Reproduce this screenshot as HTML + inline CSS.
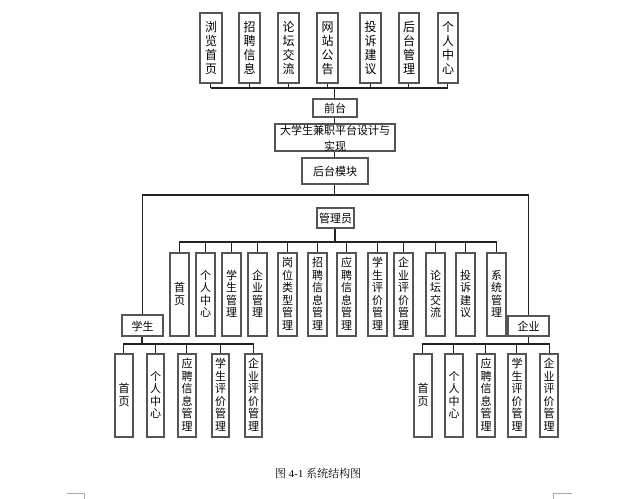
<!DOCTYPE html>
<html><head><meta charset="utf-8"><style>
body{margin:0;width:621px;height:499px;background:#fff;position:relative;overflow:hidden;font-family:"Liberation Sans","Noto Sans CJK SC",sans-serif;}
.b{position:absolute;box-sizing:border-box;border:2px solid #555;background:#fff;display:flex;align-items:center;justify-content:center;font-size:11px;color:#000;text-align:center;}
.v{flex-direction:column;line-height:12.5px;}
.t{line-height:14px;font-size:12px;}
.l{position:absolute;background:#222;}
</style></head><body>
<!-- top connectors -->
<div class="l" style="left:211px;top:87px;width:237px;height:1.5px"></div>
<div class="l" style="left:210px;top:83px;width:1px;height:5px"></div>
<div class="l" style="left:249px;top:83px;width:1px;height:5px"></div>
<div class="l" style="left:288px;top:83px;width:1px;height:5px"></div>
<div class="l" style="left:327px;top:83px;width:1px;height:5px"></div>
<div class="l" style="left:370px;top:83px;width:1px;height:5px"></div>
<div class="l" style="left:408px;top:83px;width:1px;height:5px"></div>
<div class="l" style="left:447px;top:83px;width:1px;height:5px"></div>
<div class="l" style="left:334px;top:87px;width:1px;height:108px"></div>
<div class="l" style="left:142px;top:194px;width:387px;height:1.5px"></div>
<div class="l" style="left:142px;top:194px;width:1px;height:121px"></div>
<div class="l" style="left:528px;top:194px;width:1px;height:121px"></div>
<div class="l" style="left:334px;top:227px;width:2px;height:15px"></div>
<div class="l" style="left:179px;top:241px;width:318px;height:1.5px"></div>
<div class="l" style="left:179px;top:241px;width:1px;height:11px"></div>
<div class="l" style="left:205px;top:241px;width:1px;height:11px"></div>
<div class="l" style="left:231px;top:241px;width:1px;height:11px"></div>
<div class="l" style="left:257px;top:241px;width:1px;height:11px"></div>
<div class="l" style="left:287px;top:241px;width:1px;height:11px"></div>
<div class="l" style="left:317px;top:241px;width:1px;height:11px"></div>
<div class="l" style="left:346px;top:241px;width:1px;height:11px"></div>
<div class="l" style="left:377px;top:241px;width:1px;height:11px"></div>
<div class="l" style="left:403px;top:241px;width:1px;height:11px"></div>
<div class="l" style="left:435px;top:241px;width:1px;height:11px"></div>
<div class="l" style="left:465px;top:241px;width:1px;height:11px"></div>
<div class="l" style="left:496px;top:241px;width:1px;height:11px"></div>
<!-- student connectors -->
<div class="l" style="left:141px;top:336px;width:2px;height:8px"></div>
<div class="l" style="left:123px;top:343px;width:130px;height:1.5px"></div>
<div class="l" style="left:123px;top:343px;width:1px;height:10px"></div>
<div class="l" style="left:155px;top:343px;width:1px;height:10px"></div>
<div class="l" style="left:186px;top:343px;width:1px;height:10px"></div>
<div class="l" style="left:220px;top:343px;width:1px;height:10px"></div>
<div class="l" style="left:253px;top:343px;width:1px;height:10px"></div>
<!-- enterprise connectors -->
<div class="l" style="left:528px;top:336px;width:1px;height:8px"></div>
<div class="l" style="left:422px;top:343px;width:128px;height:1.5px"></div>
<div class="l" style="left:422px;top:343px;width:1px;height:10px"></div>
<div class="l" style="left:453px;top:343px;width:1px;height:10px"></div>
<div class="l" style="left:485px;top:343px;width:1px;height:10px"></div>
<div class="l" style="left:516px;top:343px;width:1px;height:10px"></div>
<div class="l" style="left:549px;top:343px;width:1px;height:10px"></div>

<!-- top boxes -->
<div class="b v t" style="left:199px;top:12px;width:24px;height:72px">浏<br>览<br>首<br>页</div>
<div class="b v t" style="left:238px;top:12px;width:23px;height:72px">招<br>聘<br>信<br>息</div>
<div class="b v t" style="left:277px;top:12px;width:23px;height:72px">论<br>坛<br>交<br>流</div>
<div class="b v t" style="left:316px;top:12px;width:23px;height:72px">网<br>站<br>公<br>告</div>
<div class="b v t" style="left:359px;top:12px;width:23px;height:72px">投<br>诉<br>建<br>议</div>
<div class="b v t" style="left:398px;top:12px;width:22px;height:72px">后<br>台<br>管<br>理</div>
<div class="b v t" style="left:437px;top:12px;width:22px;height:72px">个<br>人<br>中<br>心</div>

<div class="b" style="left:312px;top:98px;width:46px;height:20px">前台</div>
<div class="b" style="left:274px;top:123px;width:122px;height:29px">大学生兼职平台设计与实现</div>
<div class="b" style="left:301px;top:157px;width:68px;height:28px">后台模块</div>
<div class="b" style="left:316px;top:207px;width:39px;height:22px">管理员</div>

<!-- admin boxes -->
<div class="b v" style="left:169px;top:252px;width:21px;height:85px">首<br>页</div>
<div class="b v" style="left:195px;top:252px;width:21px;height:85px">个<br>人<br>中<br>心</div>
<div class="b v" style="left:221px;top:252px;width:21px;height:85px">学<br>生<br>管<br>理</div>
<div class="b v" style="left:247px;top:252px;width:21px;height:85px">企<br>业<br>管<br>理</div>
<div class="b v" style="left:277px;top:252px;width:21px;height:85px">岗<br>位<br>类<br>型<br>管<br>理</div>
<div class="b v" style="left:307px;top:252px;width:21px;height:85px">招<br>聘<br>信<br>息<br>管<br>理</div>
<div class="b v" style="left:336px;top:252px;width:21px;height:85px">应<br>聘<br>信<br>息<br>管<br>理</div>
<div class="b v" style="left:367px;top:252px;width:21px;height:85px">学<br>生<br>评<br>价<br>管<br>理</div>
<div class="b v" style="left:393px;top:252px;width:21px;height:85px">企<br>业<br>评<br>价<br>管<br>理</div>
<div class="b v" style="left:425px;top:252px;width:21px;height:85px">论<br>坛<br>交<br>流</div>
<div class="b v" style="left:455px;top:252px;width:21px;height:85px">投<br>诉<br>建<br>议</div>
<div class="b v" style="left:486px;top:252px;width:21px;height:85px">系<br>统<br>管<br>理</div>

<div class="b" style="left:121px;top:314px;width:43px;height:23px">学生</div>
<div class="b" style="left:507px;top:315px;width:43px;height:22px">企业</div>

<!-- student boxes -->
<div class="b v" style="left:114px;top:353px;width:20px;height:85px">首<br>页</div>
<div class="b v" style="left:146px;top:353px;width:19px;height:85px">个<br>人<br>中<br>心</div>
<div class="b v" style="left:177px;top:353px;width:20px;height:85px">应<br>聘<br>信<br>息<br>管<br>理</div>
<div class="b v" style="left:211px;top:353px;width:19px;height:85px">学<br>生<br>评<br>价<br>管<br>理</div>
<div class="b v" style="left:244px;top:353px;width:19px;height:85px">企<br>业<br>评<br>价<br>管<br>理</div>
<!-- enterprise boxes -->
<div class="b v" style="left:413px;top:353px;width:20px;height:85px">首<br>页</div>
<div class="b v" style="left:444px;top:353px;width:20px;height:85px">个<br>人<br>中<br>心</div>
<div class="b v" style="left:476px;top:353px;width:20px;height:85px">应<br>聘<br>信<br>息<br>管<br>理</div>
<div class="b v" style="left:507px;top:353px;width:20px;height:85px">学<br>生<br>评<br>价<br>管<br>理</div>
<div class="b v" style="left:539px;top:353px;width:20px;height:85px">企<br>业<br>评<br>价<br>管<br>理</div>

<div style="position:absolute;left:218px;top:465px;width:200px;text-align:center;font-family:'Liberation Serif','Noto Serif CJK SC',serif;font-size:11px;">图 4-1 系统结构图</div>

<div style="position:absolute;left:67px;top:493px;width:17px;height:1px;background:#aaa"></div>
<div style="position:absolute;left:84px;top:493px;width:1px;height:6px;background:#aaa"></div>
<div style="position:absolute;left:554px;top:493px;width:18px;height:1px;background:#aaa"></div>
<div style="position:absolute;left:553px;top:493px;width:1px;height:6px;background:#aaa"></div>
</body></html>
